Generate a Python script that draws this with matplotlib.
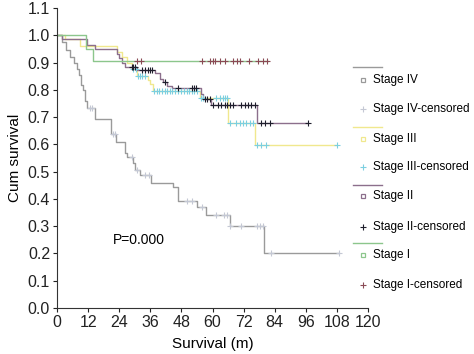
import numpy as np
import matplotlib.pyplot as plt
from matplotlib.lines import Line2D

# ----------------------------
# Data
# ----------------------------

# Stage IV
t4 = [0, 2, 3.5, 5, 6.5, 7.6, 8.6, 9.3, 10, 10.9, 11.4, 14.6, 20.8, 22.9, 26.2,
      27.2, 29.4, 30.1, 32, 36.1, 44.8, 46.7, 54, 57.6, 66.6, 80, 109]
s4 = [1.0, 0.976, 0.945, 0.92, 0.90, 0.878, 0.853, 0.817, 0.80, 0.76, 0.735, 0.692,
      0.637, 0.609, 0.569, 0.552, 0.53, 0.505, 0.487, 0.46, 0.442, 0.393, 0.37,
      0.34, 0.30, 0.20, 0.20]
c4 = [12.7, 13.4, 21.7, 22.3, 29, 30.7, 34, 35.5, 50, 52, 56, 61.5, 64.4, 65.5,
      66.6, 71, 77, 78.2, 79.5, 82.4, 109]

# Stage III
t3 = [0, 3, 9, 23, 25, 27, 29, 31, 35, 36, 37, 55, 66, 76.5, 108]
s3 = [1.0, 0.985, 0.96, 0.94, 0.92, 0.90, 0.875, 0.85, 0.835, 0.82, 0.797, 0.77,
      0.68, 0.597, 0.597]
c3 = [29.5, 30.5, 31.3, 32, 32.8, 34, 37.5, 38.5, 39.5, 40.5, 41.5, 42.5, 43.5,
      44.5, 45.5, 46.5, 48, 49, 50, 51, 52, 53, 54, 55.7, 56.4, 61.5, 62.8, 64,
      64.7, 65.6, 66.6, 69.2, 70.7, 71.8, 73.1, 74.3, 75.6, 77.2, 78.8, 80.8, 108]

# Stage II
t2 = [0, 2, 11.5, 14.6, 23, 24, 25, 26.2, 30.7, 37.8, 39.7, 41, 42.5, 44.2, 55.7,
      56.4, 59.6, 77, 97]
s2 = [1.0, 0.988, 0.963, 0.95, 0.933, 0.915, 0.90, 0.882, 0.872, 0.86, 0.84, 0.83,
      0.815, 0.807, 0.786, 0.766, 0.745, 0.68, 0.68]
c2 = [29, 29.5, 30.2, 32.9, 34, 35, 35.8, 36.7, 41.7, 46.7, 52, 52.8, 53.8, 57, 58,
      59, 60.2, 62.2, 63.4, 64.7, 65.6, 66.6, 67.9, 71.1, 72.4, 73.7, 75, 76.3,
      78.8, 80.1, 82, 96.8]

# Stage I
t1 = [0, 11.3, 14, 81.5]
s1 = [1.0, 0.95, 0.905, 0.905]
c1 = [31, 32.4, 56, 59, 60, 61, 62.9, 64.8, 68, 69.3, 70.8, 74, 77.5, 79.5, 81]

stages = ["Stage IV", "Stage III", "Stage II", "Stage I"]
line_colors = ["#9a9a9a", "#f0e88e", "#8c6f8c", "#8cc68c"]
cens_colors = ["#c4c8d4", "#7ccfe0", "#1e1e2c", "#8a4a55"]


def surv_at(times, surv, x):
    idx = np.searchsorted(times, x, side="right") - 1
    return np.asarray(surv)[idx]


# ----------------------------
# Plot
# ----------------------------

plt.rcParams["font.family"] = ["Liberation Sans", "DejaVu Sans"]

fig = plt.figure(figsize=(4.74, 3.54), dpi=100)
ax = fig.add_axes([57 / 474, 1 - 308 / 354, 311 / 474, 300 / 354])

series = [(t4, s4, c4), (t3, s3, c3), (t2, s2, c2), (t1, s1, c1)]
for (t, s, c), lc in zip(series, line_colors):
    ax.step(t, s, where="post", color=lc, lw=1.0)
for (t, s, c), cc in zip(series, cens_colors):
    ax.plot(c, surv_at(t, s, c), "+", color=cc, ms=5, mew=0.8, ls="none")

ax.set_xlim(0, 120)
ax.set_ylim(0, 1.1)
ax.set_xticks(np.arange(0, 121, 12))
ax.set_yticks(np.arange(0, 1.11, 0.1))
ax.set_yticklabels([f"{v:.1f}" for v in np.arange(0, 1.11, 0.1)])
ax.tick_params(labelsize=11.5, length=3, width=0.8, colors="#222222", pad=2)
for side in ["top", "right"]:
    ax.spines[side].set_visible(False)
for side in ["left", "bottom"]:
    ax.spines[side].set_color("#333333")
    ax.spines[side].set_linewidth(0.8)

ax.set_xlabel("Survival (m)", fontsize=11, labelpad=5)
ax.set_ylabel("Cum survival", fontsize=11, labelpad=4)
ax.text(21.6, 0.249, "P=0.000", fontsize=10, va="center", ha="left")

# SPSS-style legend, drawn by hand in figure pixels
W, H = 474, 354
row_y = [80, 109, 139, 167, 196, 227, 255, 285]
line_y = [67, 127, 185, 243]
for i, name in enumerate(stages):
    ly = 1 - line_y[i] / H
    fig.add_artist(Line2D([353 / W, 382 / W], [ly, ly], color=line_colors[i], lw=1.0))
    y_lab = 1 - row_y[2 * i] / H
    y_cen = 1 - row_y[2 * i + 1] / H
    fig.add_artist(Line2D([363 / W], [y_lab], marker="s", ms=3.5, mfc="none",
                          mec=line_colors[i], mew=0.9, ls="none"))
    fig.add_artist(Line2D([363 / W], [y_cen], marker="+", ms=5,
                          color=cens_colors[i], mew=0.8, ls="none"))
    fig.text(373 / W, y_lab, name, fontsize=8.5, va="center", ha="left")
    fig.text(373 / W, y_cen, name + "-censored", fontsize=8.5, va="center", ha="left")

fig.savefig("out.png", dpi=100)
